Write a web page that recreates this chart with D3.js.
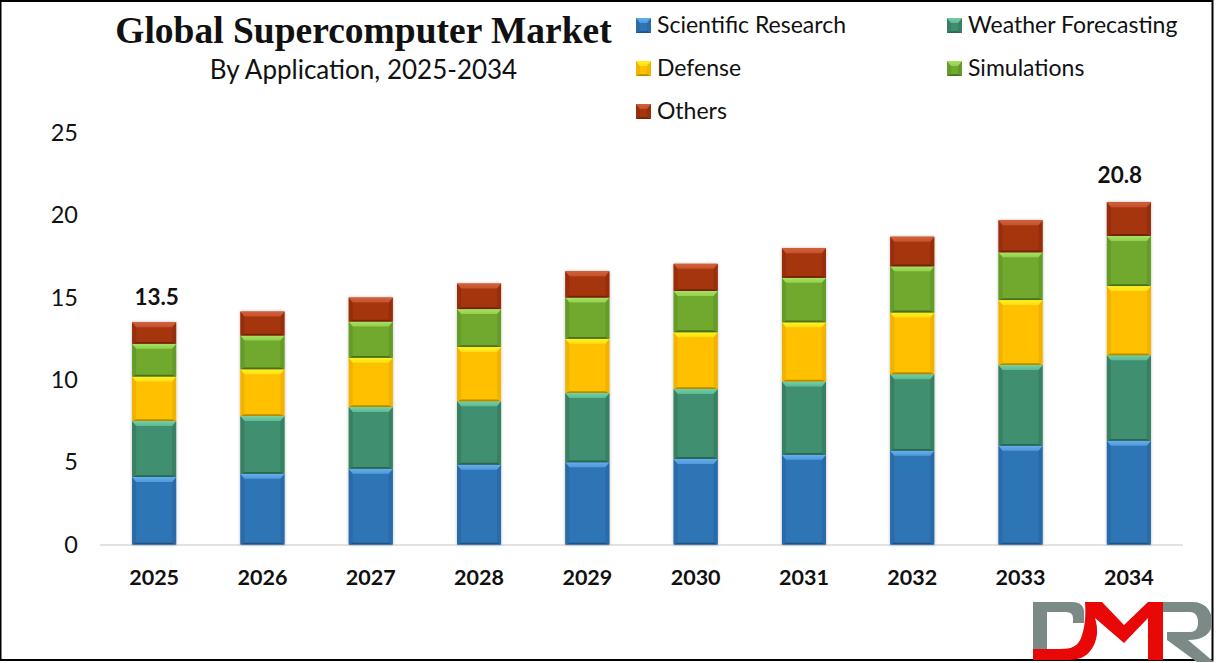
<!DOCTYPE html>
<html><head><meta charset="utf-8">
<script src="https://cdn.jsdelivr.net/npm/d3@7/dist/d3.min.js"></script>
<style>html,body{margin:0;padding:0;background:#fff;overflow:hidden}svg{display:block}text{font-family:Lato,sans-serif;fill:#111}</style>
</head><body><svg id="c" width="1216" height="663"></svg>
<script>
const years=["2025","2026","2027","2028","2029","2030","2031","2032","2033","2034"];
const scientific=[4.1,4.3,4.6,4.85,5.0,5.2,5.45,5.7,6.0,6.3];
const weather=[3.4,3.5,3.75,3.85,4.2,4.25,4.45,4.65,4.9,5.2];
const defense=[2.7,2.85,3.0,3.3,3.3,3.45,3.6,3.75,3.95,4.2];
const simulations=[2.0,2.05,2.2,2.3,2.5,2.5,2.7,2.8,2.9,3.05];
const others=[1.3,1.45,1.45,1.55,1.6,1.65,1.8,1.8,1.95,2.05];
const seriesNames=["Scientific Research","Weather Forecasting","Defense","Simulations","Others"];
const seriesValues=[scientific,weather,defense,simulations,others];
const totalLabels=[{i:0,text:"13.5",dx:2.5,dy:-17},{i:9,text:"20.8",dx:-9,dy:-19}];
const yTicks=[0,5,10,15,20,25];
const palette=[
 {base:"#2e75b6",light:"#62aef0",dark:"#1f5285",side:"#2a6ba8"},
 {base:"#3f8f6f",light:"#6fd0a6",dark:"#2a6650",side:"#397f63"},
 {base:"#ffc000",light:"#fff01f",dark:"#b88a00",side:"#f0b400"},
 {base:"#70a92f",light:"#a6e35e",dark:"#486f1c",side:"#669b2a"},
 {base:"#a5350e",light:"#d4603c",dark:"#742406",side:"#962f0c"}];

const svg=d3.select("#c");
const defs=svg.append("defs");
const sh=defs.append("filter").attr("id","sh").attr("x","-20%").attr("y","-5%").attr("width","140%").attr("height","110%");
sh.append("feDropShadow").attr("dx",0).attr("dy",0).attr("stdDeviation",1.5).attr("flood-color","#000").attr("flood-opacity",.28);
const soft=defs.append("filter").attr("id","soft");
soft.append("feGaussianBlur").attr("stdDeviation",.7);
palette.forEach((c,k)=>{
  const g=defs.append("linearGradient").attr("id","top"+k).attr("x1",0).attr("x2",0).attr("y1",0).attr("y2",1);
  g.append("stop").attr("offset",0).attr("stop-color",c.light);
  g.append("stop").attr("offset",1).attr("stop-color",d3.interpolateRgb(c.light,c.base)(.35));
});

const x=d3.scaleBand().domain(years).range([100,1183]).paddingInner(.594).paddingOuter(.297);
const y=d3.scaleLinear().domain([0,25]).range([544.5,133]);
const stack=d3.stack().keys(d3.range(5)).value((d,k)=>seriesValues[k][d]);
const layers=stack(d3.range(years.length));

function bevel(g,X,Y,W,H,c,k,t,s){
  const poly=(pts,f)=>g.append("polygon").attr("points",pts.map(p=>p.join(",")).join(" ")).attr("fill",f);
  const b=s*.45;
  g.append("rect").attr("x",X).attr("y",Y).attr("width",W).attr("height",H).attr("fill",c.base);
  poly([[X,Y],[X+s,Y+t],[X+s,Y+H-b],[X,Y+H]],c.side);
  poly([[X+W,Y],[X+W-s,Y+t],[X+W-s,Y+H-b],[X+W,Y+H]],c.side);
  poly([[X,Y+H],[X+s,Y+H-b],[X+W-s,Y+H-b],[X+W,Y+H]],c.dark);
  poly([[X,Y],[X+W,Y],[X+W-s,Y+t],[X+s,Y+t]],`url(#top${k})`);
}

const chart=svg.append("g");
chart.append("line").attr("x1",100).attr("x2",1183).attr("y1",y(0)+.5).attr("y2",y(0)+.5).attr("stroke","#d9d9d9").attr("stroke-width",1.5);
const bars=chart.append("g").selectAll("g").data(years).join("g").attr("filter","url(#sh)");
bars.each(function(yr,i){
  const g=d3.select(this);
  layers.forEach((l,k)=>{
    const seg=g.append("g").attr("filter","url(#soft)");
    bevel(seg,x(yr),y(l[i][1]),x.bandwidth(),y(l[i][0])-y(l[i][1]),palette[k],k,5,4);
  });
});

const yAxis=d3.axisLeft(y).tickValues(yTicks).tickSize(0).tickPadding(20);
const ya=chart.append("g").attr("transform","translate(98,0)").call(yAxis);
ya.select(".domain").remove();
ya.selectAll("text").style("font-size","23.5px").style("font-family","Lato,sans-serif").attr("fill","#111");
const xAxis=d3.axisBottom(x).tickSize(0).tickPadding(25);
const xa=chart.append("g").attr("transform",`translate(0,${y(0)})`).call(xAxis);
xa.select(".domain").remove();
xa.selectAll("text").style("font-size","21.5px").style("font-weight","700").style("font-family","Lato,sans-serif").attr("fill","#111");

chart.selectAll("text.total").data(totalLabels).join("text").attr("class","total")
 .attr("x",d=>x(years[d.i])+x.bandwidth()/2+d.dx)
 .attr("y",d=>y(d3.sum(seriesValues,s=>s[d.i]))+d.dy)
 .attr("text-anchor","middle").style("font-size","22.5px").style("font-weight","700").text(d=>d.text);

svg.append("text").attr("x",363.5).attr("y",43).attr("text-anchor","middle")
 .style("font-family","'Liberation Serif',serif").style("font-weight","700").style("font-size","37.5px").text("Global Supercomputer Market");
svg.append("text").attr("x",363.5).attr("y",79).attr("text-anchor","middle").style("font-size","26px").text("By Application, 2025-2034");

const legendPos=[[636,25],[947,25],[636,68],[947,68],[636,111]];
seriesNames.forEach((n,k)=>{
  const g=svg.append("g");
  const [lx,ly]=legendPos[k];
  bevel(g,lx,ly-7,15,15,palette[k],k,5,4);
  g.append("text").attr("x",lx+21).attr("y",ly+8).style("font-size","23px").text(n);
});

svg.append("rect").attr("x",0.5).attr("y",1).attr("width",1212).attr("height",659).attr("fill","none").attr("stroke","#000").attr("stroke-width",2);

// logo
const logo=svg.append("g");
logo.append("path").attr("fill","#7b8a87").attr("d","M1033 602H1072C1080 602 1084 606 1084 612V623H1073V618Q1073 612 1066 612H1047V650H1033Z");
logo.append("path").attr("fill","#7b8a87").attr("d","M1163 602H1192C1205 602 1212 610 1212 622C1212 634 1203 640 1188 640L1214 662H1197L1167 640V632H1190C1196 632 1198 628 1198 622C1198 616 1195 612 1190 612H1163Z");
logo.append("path").attr("fill","#e80808").attr("d","M1033 649H1060C1072 649 1078 646 1081 638C1085 628 1086 615 1085 602H1102L1124 625L1148 602H1163V660H1148V618L1124 643L1095 618C1098 628 1098 636 1094 645C1089 655 1082 660 1068 660H1033Z");
</script></body></html>
